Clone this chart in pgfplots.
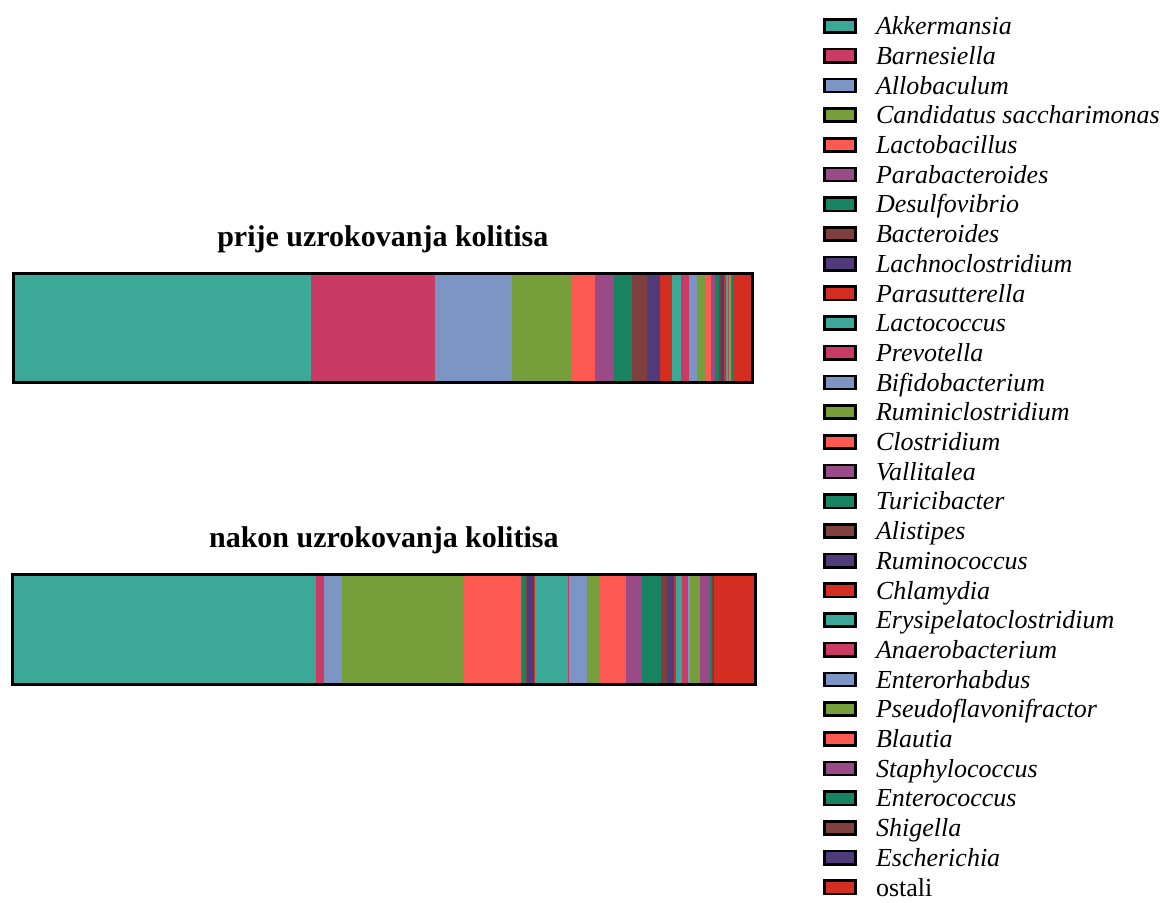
\documentclass[border=0pt]{standalone}
\usepackage{fontspec}
\setmainfont{Liberation Serif}
\usepackage{pgfplots}
\pgfplotsset{compat=1.18}

\definecolor{cA}{HTML}{3BA898}
\definecolor{cB}{HTML}{C93A64}
\definecolor{cC}{HTML}{7D95C4}
\definecolor{cD}{HTML}{769F3C}
\definecolor{cE}{HTML}{FE5A51}
\definecolor{cF}{HTML}{9A4A87}
\definecolor{cG}{HTML}{178360}
\definecolor{cH}{HTML}{7F3F3E}
\definecolor{cI}{HTML}{4F3B79}
\definecolor{cJ}{HTML}{D42E22}

\pgfplotsset{
  genus/.style={
    xbar stacked, bar width=1,
    xmin=0, xmax=100, ymin=-0.5, ymax=0.5,
    scale only axis, axis on top,
    xtick=\empty, ytick=\empty,
    axis line style={line width=1.5pt},
    title style={font=\fontsize{15}{18}\selectfont\bfseries, at={(0.5,1)}, anchor=base, yshift=7.5pt},
    cycle list={
      {fill=cA,draw=none},{fill=cB,draw=none},{fill=cC,draw=none},{fill=cD,draw=none},{fill=cE,draw=none},
      {fill=cF,draw=none},{fill=cG,draw=none},{fill=cH,draw=none},{fill=cI,draw=none},{fill=cJ,draw=none}},
  },
}

\begin{document}
\begin{tikzpicture}
\path[use as bounding box] (0,0) rectangle (582.5pt,-451.5pt);

% prije
\begin{axis}[genus,
  at={(6.6pt,-191.25pt)}, anchor=south west,
  width=369.65pt, height=54.5pt,
  title={prije uzrokovanja kolitisa},
  legend cell align=left,
  legend image code/.code={\draw[#1, draw=black, line width=1.3pt] (0pt,-3.3pt) rectangle (15.5pt,3.3pt);},
  legend style={at={(1.0954,3.41)}, anchor=north west, draw=none, fill=none,
    inner sep=0pt, row sep=0pt, column sep=9.5pt,
    font=\fontsize{13}{15}\selectfont,
    nodes={inner sep=0pt, text height=11.75pt, text depth=3.1pt}},
]
\addplot coordinates {(40.3,0)};
\addplot coordinates {(16.7,0)};
\addplot coordinates {(10.5,0)};
\addplot coordinates {(8.05,0)};
\addplot coordinates {(3.1,0)};
\addplot coordinates {(2.66,0)};
\addplot coordinates {(2.37,0)};
\addplot coordinates {(1.99,0)};
\addplot coordinates {(1.82,0)};
\addplot coordinates {(1.63,0)};
\addplot coordinates {(1.17,0)};
\addplot coordinates {(1.18,0)};
\addplot coordinates {(1.05,0)};
\addplot coordinates {(1.03,0)};
\addplot coordinates {(0.87,0)};
\addplot coordinates {(0.54,0)};
\addplot coordinates {(0.45,0)};
\addplot coordinates {(0.37,0)};
\addplot coordinates {(0.40,0)};
\addplot coordinates {(0.23,0)};
\addplot coordinates {(0.22,0)};
\addplot coordinates {(0.14,0)};
\addplot coordinates {(0.14,0)};
\addplot coordinates {(0.11,0)};
\addplot coordinates {(0.08,0)};
\addplot coordinates {(0.07,0)};
\addplot coordinates {(0.05,0)};
\addplot coordinates {(0.04,0)};
\addplot coordinates {(0.04,0)};
\addplot coordinates {(2.6,0)};
\legend{\textit{Akkermansia},\textit{Barnesiella},\textit{Allobaculum},\textit{Candidatus saccharimonas},
  \textit{Lactobacillus},\textit{Parabacteroides},\textit{Desulfovibrio},\textit{Bacteroides},
  \textit{Lachnoclostridium},\textit{Parasutterella},\textit{Lactococcus},\textit{Prevotella},
  \textit{Bifidobacterium},\textit{Ruminiclostridium},\textit{Clostridium},\textit{Vallitalea},
  \textit{Turicibacter},\textit{Alistipes},\textit{Ruminococcus},\textit{Chlamydia},
  \textit{Erysipelatoclostridium},\textit{Anaerobacterium},\textit{Enterorhabdus},
  \textit{Pseudoflavonifractor},\textit{Blautia},\textit{Staphylococcus},\textit{Enterococcus},
  \textit{Shigella},\textit{Escherichia},ostali}
\end{axis}

% nakon
\begin{axis}[genus,
  at={(6.1pt,-342.25pt)}, anchor=south west,
  width=371.65pt, height=55pt,
  title={nakon uzrokovanja kolitisa},
]
\addplot coordinates {(40.9,0)};
\addplot coordinates {(1.0,0)};
\addplot coordinates {(2.5,0)};
\addplot coordinates {(16.4,0)};
\addplot coordinates {(7.6,0)};
\addplot coordinates {(0.03,0)};
\addplot coordinates {(0.73,0)};
\addplot coordinates {(0.05,0)};
\addplot coordinates {(1.0,0)};
\addplot coordinates {(0.01,0)};
\addplot coordinates {(4.55,0)};
\addplot coordinates {(0.1,0)};
\addplot coordinates {(2.5,0)};
\addplot coordinates {(1.63,0)};
\addplot coordinates {(3.6,0)};
\addplot coordinates {(2.14,0)};
\addplot coordinates {(2.5,0)};
\addplot coordinates {(0.86,0)};
\addplot coordinates {(0.96,0)};
\addplot coordinates {(0.27,0)};
\addplot coordinates {(0.82,0)};
\addplot coordinates {(0.77,0)};
\addplot coordinates {(0.32,0)};
\addplot coordinates {(1.13,0)};
\addplot coordinates {(0.04,0)};
\addplot coordinates {(1.47,0)};
\addplot coordinates {(0.2,0)};
\addplot coordinates {(0.1,0)};
\addplot coordinates {(0.2,0)};
\addplot coordinates {(5.6,0)};
\end{axis}
\end{tikzpicture}
\end{document}
